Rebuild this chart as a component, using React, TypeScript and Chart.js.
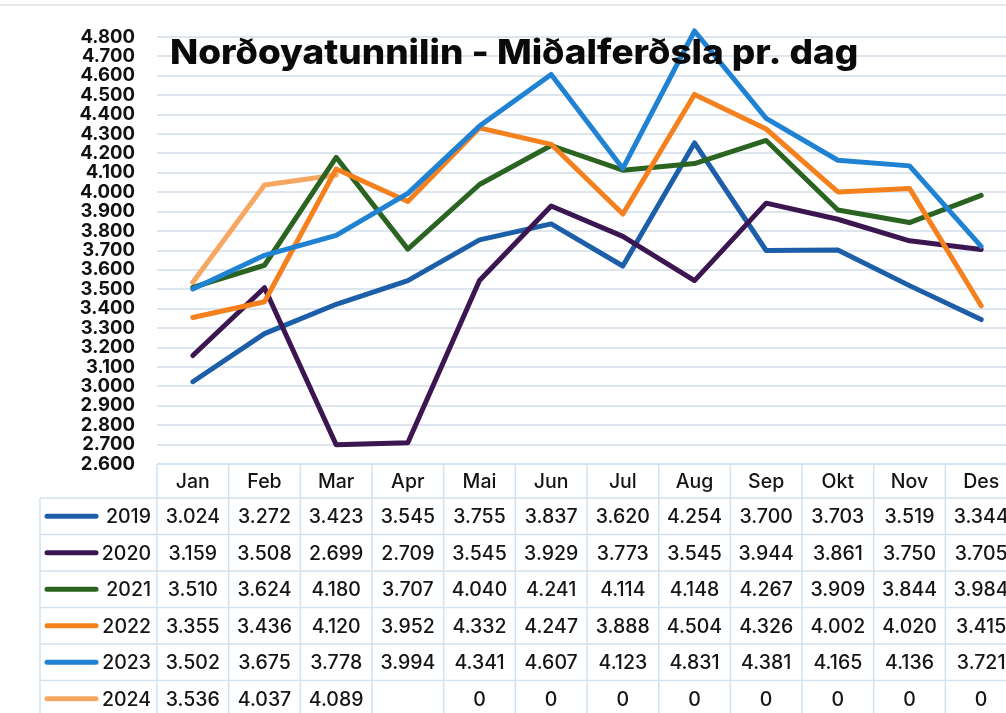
import { useEffect, useRef } from "react";
import { Chart, registerables } from "chart.js";

Chart.register(...registerables);

const months = ["Jan", "Feb", "Mar", "Apr", "Mai", "Jun", "Jul", "Aug", "Sep", "Okt", "Nov", "Des"];
const years = ["2019", "2020", "2021", "2022", "2023", "2024"];
const v2019 = [3024, 3272, 3423, 3545, 3755, 3837, 3620, 4254, 3700, 3703, 3519, 3344];
const v2020 = [3159, 3508, 2699, 2709, 3545, 3929, 3773, 3545, 3944, 3861, 3750, 3705];
const v2021 = [3510, 3624, 4180, 3707, 4040, 4241, 4114, 4148, 4267, 3909, 3844, 3984];
const v2022 = [3355, 3436, 4120, 3952, 4332, 4247, 3888, 4504, 4326, 4002, 4020, 3415];
const v2023 = [3502, 3675, 3778, 3994, 4341, 4607, 4123, 4831, 4381, 4165, 4136, 3721];
const v2024 = [3536, 4037, 4089, null, 0, 0, 0, 0, 0, 0, 0, 0];
const seriesValues = [v2019, v2020, v2021, v2022, v2023, v2024];
const seriesColors = ["#1d5ea8", "#3c1650", "#2a6420", "#f5801e", "#1f82d2", "#f6a862"];
const drawOrder = [4, 3, 2, 1, 0, 5];
const yMin = 2600;
const yMax = 4800;
const yStep = 100;
const chartTitle = "Norðoyatunnilin - Miðalferðsla pr. dag";

const fmt = (n: number | null) =>
  n === null ? "" : String(n).replace(/\B(?=(\d{3})+(?!\d))/g, ".");

const FONT = "Inter, 'Liberation Sans', Arial, sans-serif";

const tablePlugin = {
  id: "dataTable",
  afterDraw(chart: any) {
    const { ctx, chartArea, scales } = chart;
    const x = scales.x;
    const step = x.getPixelForValue(1) - x.getPixelForValue(0);
    const top = chartArea.bottom;
    const headH = 34;
    const rowH = 36.5;
    const legendLeft = 40;
    const bottom = chart.height;
    const firstEdge = x.getPixelForValue(0) - step / 2;
    ctx.save();

    // faint scan border at the top
    ctx.strokeStyle = "#e6e8ea";
    ctx.lineWidth = 2;
    ctx.beginPath();
    ctx.moveTo(0, 5);
    ctx.lineTo(chart.width, 5);
    ctx.stroke();

    // table grid
    ctx.strokeStyle = "#d2e2ef";
    ctx.lineWidth = 1.5;
    ctx.beginPath();
    for (let i = 0; i <= months.length; i++) {
      const xb = firstEdge + i * step;
      ctx.moveTo(xb, top);
      ctx.lineTo(xb, bottom);
    }
    ctx.moveTo(legendLeft, top + headH);
    ctx.lineTo(legendLeft, bottom);
    ctx.moveTo(firstEdge, top);
    ctx.lineTo(chartArea.right, top);
    for (let r = 0; r <= years.length; r++) {
      const yb = top + headH + r * rowH;
      ctx.moveTo(legendLeft, yb);
      ctx.lineTo(chartArea.right, yb);
    }
    ctx.stroke();

    // header
    ctx.fillStyle = "#151515";
    ctx.textAlign = "center";
    ctx.textBaseline = "middle";
    ctx.font = `500 19.5px ${FONT}`;
    months.forEach((m, i) => {
      ctx.fillText(m, x.getPixelForValue(i), top + headH / 2 + 1);
    });

    // rows
    years.forEach((yr, r) => {
      const cy = top + headH + r * rowH + rowH / 2 + 1;
      ctx.strokeStyle = seriesColors[r];
      ctx.lineWidth = 5;
      ctx.lineCap = "round";
      ctx.beginPath();
      ctx.moveTo(47, cy - 1);
      ctx.lineTo(96, cy - 1);
      ctx.stroke();
      ctx.textAlign = "right";
      ctx.fillStyle = "#151515";
      ctx.fillText(yr, 151, cy);
      ctx.textAlign = "center";
      seriesValues[r].forEach((v, i) => {
        ctx.fillText(fmt(v), x.getPixelForValue(i), cy);
      });
    });

    // title (drawn a touch wider, like the reference's face)
    ctx.fillStyle = "#0a0a0a";
    ctx.textAlign = "left";
    ctx.textBaseline = "alphabetic";
    ctx.font = `800 34px ${FONT}`;
    ctx.translate(chartArea.left + 13, 64);
    ctx.scale(1.085, 1);
    ctx.fillText(chartTitle, 0, 0);
    ctx.restore();
  },
};

export default function App() {
  const ref = useRef<HTMLCanvasElement>(null);
  useEffect(() => {
    if (!ref.current) return;
    const chart = new Chart(ref.current, {
      type: "line",
      data: {
        labels: months,
        datasets: years.map((yr, i) => ({
          label: yr,
          data: seriesValues[i],
          borderColor: seriesColors[i],
          backgroundColor: seriesColors[i],
          borderWidth: 5,
          pointRadius: 0,
          pointHoverRadius: 0,
          borderCapStyle: "round",
          borderJoinStyle: "round",
          tension: 0,
          spanGaps: false,
          order: drawOrder[i],
          clip: yr === "2024" ? undefined : false,
        })) as any,
      },
      options: {
        animation: false,
        responsive: false,
        layout: { padding: { left: 0, top: 37, right: 13, bottom: 249 } },
        plugins: {
          legend: { display: false },
          title: { display: false },
          tooltip: { enabled: false },
        },
        scales: {
          x: { type: "category", display: false, offset: true },
          y: {
            min: yMin,
            max: yMax,
            ticks: {
              stepSize: yStep,
              autoSkip: false,
              padding: 22,
              color: "#111",
              font: { family: FONT, weight: "700", size: 18.5 },
              callback: (v: any) => fmt(Number(v)),
            },
            grid: { color: "#dde5ee", lineWidth: 2, drawTicks: false },
            border: { display: false },
            afterFit: (s: any) => {
              s.width = 157;
            },
          },
        },
      } as any,
      plugins: [tablePlugin],
    });
    return () => chart.destroy();
  }, []);
  return (
    <div
      style={{
        position: "fixed",
        left: 0,
        top: 0,
        width: 1006,
        height: 713,
        overflow: "hidden",
        background: "#fff",
      }}
    >
      <canvas ref={ref} width={1030} height={713} style={{ display: "block" }} />
    </div>
  );
}
